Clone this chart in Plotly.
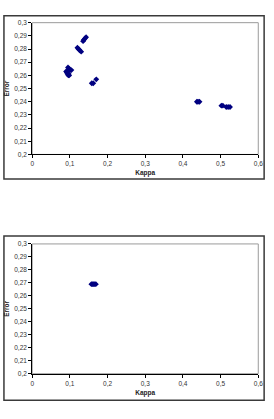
import plotly.graph_objects as go

# Top chart data
kappa_top = [0.090, 0.092, 0.094, 0.096, 0.098, 0.095, 0.098, 0.101, 0.104, 0.093, 0.097,
             0.120, 0.123, 0.126, 0.130,
             0.135, 0.137, 0.140, 0.143,
             0.158, 0.162, 0.170,
             0.437, 0.440, 0.444,
             0.502, 0.506,
             0.515, 0.520, 0.525]
error_top = [0.263, 0.262, 0.261, 0.260, 0.260, 0.266, 0.265, 0.264, 0.264, 0.263, 0.261,
             0.281, 0.280, 0.279, 0.278,
             0.286, 0.287, 0.288, 0.289,
             0.254, 0.254, 0.257,
             0.240, 0.240, 0.240,
             0.237, 0.237,
             0.236, 0.236, 0.236]

# Bottom chart data
kappa_bot = [0.157, 0.160, 0.163, 0.166, 0.169]
error_bot = [0.269, 0.269, 0.269, 0.269, 0.269]

x_ticks = [0, 0.1, 0.2, 0.3, 0.4, 0.5, 0.6]
x_labels = ["0", "0,1", "0,2", "0,3", "0,4", "0,5", "0,6"]
y_ticks = [0.2, 0.21, 0.22, 0.23, 0.24, 0.25, 0.26, 0.27, 0.28, 0.29, 0.3]
y_labels = ["0,2", "0,21", "0,22", "0,23", "0,24", "0,25", "0,26", "0,27", "0,28", "0,29", "0,3"]

W, H = 274, 419
FONT = "Liberation Sans, Arial, sans-serif"

fig = go.Figure()
marker = dict(symbol="diamond", size=4.5, color="#000080", line=dict(width=0))
fig.add_trace(go.Scatter(x=kappa_top, y=error_top, mode="markers", marker=marker,
                         xaxis="x", yaxis="y", showlegend=False))
fig.add_trace(go.Scatter(x=kappa_bot, y=error_bot, mode="markers", marker=marker,
                         xaxis="x2", yaxis="y2", showlegend=False))

def px_dom_x(a, b):
    return [a / W, b / W]

def px_dom_y(top, bottom):
    return [1 - bottom / H, 1 - top / H]

xaxis_common = dict(range=[0, 0.6], tickvals=x_ticks, ticktext=x_labels,
                    showgrid=False, zeroline=False, showline=True, linecolor="#000000",
                    linewidth=1, ticks="outside", ticklen=3, tickcolor="#000000",
                    tickfont=dict(size=6.5, color="#333333", family=FONT),
                    title=dict(text="<b>Kappa</b>", font=dict(size=6.5, color="#222222", family=FONT),
                               standoff=4),
                    mirror=False)
yaxis_common = dict(range=[0.2, 0.3], tickvals=y_ticks, ticktext=y_labels,
                    showgrid=False, zeroline=False, showline=True, linecolor="#000000",
                    linewidth=1, ticks="outside", ticklen=3, tickcolor="#000000",
                    tickfont=dict(size=6.5, color="#333333", family=FONT),
                    title=dict(text="<b>Error</b>", font=dict(size=6.5, color="#222222", family=FONT),
                               standoff=3))

fig.update_layout(
    width=W, height=H,
    margin=dict(l=0, r=0, t=0, b=0),
    paper_bgcolor="white", plot_bgcolor="white",
    xaxis=dict(domain=px_dom_x(31, 263), anchor="y", **xaxis_common),
    yaxis=dict(domain=px_dom_y(19, 153), anchor="x", **yaxis_common),
    xaxis2=dict(domain=px_dom_x(31, 263), anchor="y2", **xaxis_common),
    yaxis2=dict(domain=px_dom_y(244, 376), anchor="x2", **yaxis_common),
)

shapes = []
# plot area grey frames
for top, bottom in [(19, 153), (244, 376)]:
    y0, y1 = px_dom_y(top, bottom)
    shapes.append(dict(type="rect", xref="paper", yref="paper",
                       x0=31 / W, x1=263 / W, y0=y0, y1=y1,
                       line=dict(color="#9a9a9a", width=1), layer="below"))
# outer chart boxes
for top, bottom in [(12, 178), (236, 403)]:
    y0, y1 = px_dom_y(top, bottom)
    shapes.append(dict(type="rect", xref="paper", yref="paper",
                       x0=2 / W, x1=269 / W, y0=y0, y1=y1,
                       line=dict(color="#3a3a3a", width=1.5)))
fig.update_layout(shapes=shapes)

fig.write_html("out.html")
